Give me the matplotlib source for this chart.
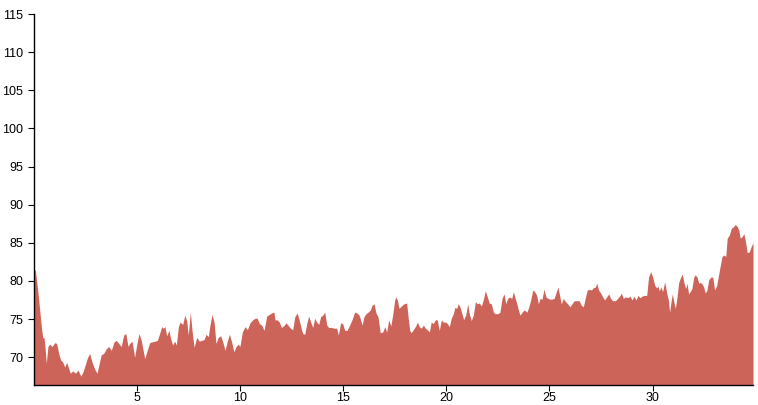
import matplotlib
matplotlib.use("Agg")
import matplotlib.pyplot as plt

# valores (x, y)
xs = [0.00, 0.09, 0.22, 0.30, 0.38, 0.45, 0.51, 0.57, 0.62, 0.70, 0.78, 0.90, 1.03, 1.12, 1.22,
      1.32, 1.41, 1.51, 1.61, 1.71, 1.78, 1.91, 2.03, 2.16, 2.29, 2.40, 2.51, 2.61, 2.72, 2.83,
      2.97, 3.08, 3.17, 3.28, 3.40, 3.53, 3.64, 3.77, 3.90, 4.01, 4.13, 4.25, 4.37, 4.47, 4.58,
      4.66, 4.77, 4.90, 5.00, 5.11, 5.22, 5.39, 5.51, 5.63, 5.73, 5.89, 6.00, 6.09, 6.21, 6.29,
      6.37, 6.45, 6.56, 6.65, 6.74, 6.84, 6.92, 7.02, 7.10, 7.23, 7.33, 7.42, 7.50, 7.60, 7.68,
      7.78, 7.91, 8.03, 8.15, 8.26, 8.36, 8.47, 8.55, 8.65, 8.75, 8.84, 8.95, 9.07, 9.17, 9.28,
      9.39, 9.49, 9.60, 9.71, 9.81, 9.92, 10.00, 10.12, 10.25, 10.36, 10.49, 10.62, 10.73, 10.84,
      10.94, 11.06, 11.17, 11.30, 11.42, 11.54, 11.65, 11.70, 11.80, 11.91, 12.01, 12.12, 12.23,
      12.33, 12.44, 12.56, 12.66, 12.77, 12.85, 12.95, 13.04, 13.14, 13.24, 13.33, 13.43, 13.53,
      13.62, 13.72, 13.82, 13.91, 14.01, 14.11, 14.21, 14.30, 14.43, 14.56, 14.69, 14.77, 14.88,
      14.98, 15.08, 15.19, 15.30, 15.43, 15.56, 15.67, 15.78, 15.92, 16.01, 16.11, 16.21, 16.32,
      16.40, 16.50, 16.59, 16.69, 16.80, 16.92, 17.02, 17.11, 17.21, 17.31, 17.40, 17.50, 17.55,
      17.63, 17.71, 17.82, 17.95, 18.08, 18.14, 18.23, 18.30, 18.40, 18.52, 18.60, 18.69, 18.79,
      18.89, 18.98, 19.08, 19.18, 19.27, 19.37, 19.47, 19.56, 19.66, 19.76, 19.85, 19.97, 20.05,
      20.15, 20.24, 20.34, 20.41, 20.50, 20.58, 20.66, 20.76, 20.84, 20.94, 21.04, 21.11, 21.21,
      21.31, 21.41, 21.50, 21.60, 21.70, 21.79, 21.89, 21.99, 22.08, 22.18, 22.28, 22.37, 22.50,
      22.60, 22.70, 22.80, 22.88, 22.97, 23.07, 23.17, 23.25, 23.34, 23.44, 23.47, 23.57, 23.67,
      23.78, 23.90, 23.99, 24.09, 24.19, 24.28, 24.38, 24.46, 24.54, 24.64, 24.73, 24.83, 24.93,
      25.02, 25.12, 25.22, 25.31, 25.41, 25.49, 25.57, 25.67, 25.77, 25.88, 25.99, 26.09, 26.20,
      26.32, 26.44, 26.54, 26.64, 26.73, 26.83, 26.93, 27.03, 27.12, 27.22, 27.29, 27.38, 27.48,
      27.58, 27.67, 27.77, 27.87, 27.96, 28.06, 28.19, 28.30, 28.42, 28.48, 28.58, 28.67, 28.79,
      28.90, 29.00, 29.09, 29.19, 29.29, 29.38, 29.48, 29.59, 29.71, 29.80, 29.90, 30.00, 30.10,
      30.19, 30.26, 30.32, 30.40, 30.48, 30.58, 30.68, 30.76, 30.82, 30.89, 30.95, 31.02, 31.10,
      31.18, 31.26, 31.36, 31.43, 31.52, 31.60, 31.66, 31.74, 31.82, 31.90, 31.99, 32.06, 32.15,
      32.23, 32.31, 32.39, 32.47, 32.55, 32.63, 32.71, 32.81, 32.91, 33.00, 33.10, 33.20, 33.28,
      33.36, 33.46, 33.54, 33.61, 33.71, 33.81, 33.91, 34.00, 34.08, 34.17, 34.24, 34.33, 34.42,
      34.50, 34.58, 34.68, 34.77, 34.86]

ys = [81.6, 81.4, 78.4, 76.2, 74.0, 72.5, 72.6, 70.9, 69.2, 71.4, 71.7, 71.4, 71.9, 71.8, 70.5,
      69.6, 69.4, 68.7, 69.3, 68.5, 67.9, 68.2, 67.9, 68.3, 67.5, 68.1, 69.0, 69.9, 70.5, 69.4,
      68.4, 67.9, 69.0, 70.3, 70.5, 71.1, 71.4, 70.9, 72.0, 72.2, 71.8, 71.4, 72.9, 73.1, 71.4,
      71.8, 72.1, 70.0, 71.6, 73.1, 72.2, 69.8, 70.9, 71.9, 72.0, 72.1, 72.2, 72.9, 74.0, 73.8,
      74.0, 72.8, 73.5, 72.4, 71.6, 72.1, 71.6, 74.0, 74.6, 74.3, 75.5, 74.8, 72.9, 75.9, 73.5,
      71.3, 72.6, 72.1, 72.2, 72.3, 73.0, 72.7, 74.2, 75.6, 74.6, 71.8, 72.6, 72.8, 72.0, 70.9,
      72.1, 73.0, 72.0, 70.7, 71.4, 71.7, 71.4, 73.3, 74.0, 73.6, 74.5, 74.9, 75.1, 75.1,
      74.4, 74.2, 73.5, 75.4, 75.6, 75.8, 75.9, 74.9, 74.9, 74.6, 73.9, 74.1, 74.5,
      74.2, 73.8, 73.6, 75.3, 75.8, 75.1, 74.0, 73.1, 73.0, 74.4, 75.4, 74.6, 73.9,
      75.1, 74.6, 74.3, 75.3, 75.5, 75.9, 74.2, 73.9, 73.9, 73.8, 73.8, 72.9, 74.5,
      74.4, 73.5, 73.5, 74.1, 74.9, 75.9, 75.8, 75.5, 74.2, 75.3, 75.7, 75.9, 76.2,
      76.8, 77.0, 75.8, 75.3, 73.2, 73.3, 74.0, 73.3, 74.9, 74.1, 75.5, 77.5, 77.9,
      77.5, 76.4, 76.7, 77.0, 77.1, 75.5, 73.5, 73.2, 73.6, 74.1, 74.6, 74.0, 73.8,
      74.2, 73.8, 73.6, 73.3, 74.6, 74.4, 74.9, 74.9, 73.5, 74.9, 74.6, 74.6, 74.4,
      74.0, 75.1, 75.7, 76.5, 76.4, 77.0, 76.6, 75.7, 74.9, 75.5, 77.0, 75.7, 74.8,
      75.5, 77.3, 77.0, 77.1, 76.7, 77.5, 78.7, 77.9, 77.1, 77.0, 75.9, 75.7, 75.7,
      75.9, 77.7, 78.3, 77.0, 77.7, 77.9, 77.7, 78.6, 77.7, 76.8, 76.4, 75.5, 75.9,
      76.2, 75.9, 76.5, 77.5, 78.8, 78.6, 78.1, 77.0, 77.7, 77.6, 78.9, 77.9, 77.7,
      77.6, 77.6, 77.7, 78.4, 79.2, 78.1, 77.0, 77.7, 77.3, 77.0, 76.6, 77.0, 77.4,
      77.4, 77.4, 76.8, 76.6, 77.7, 78.8, 78.9, 78.8, 79.1, 79.2, 79.7, 78.8, 78.4,
      77.9, 77.5, 77.9, 78.3, 77.7, 77.4, 77.4, 77.7, 78.1, 78.4, 77.7, 77.9, 77.8,
      78.0, 77.5, 78.0, 77.5, 78.1, 77.8, 78.0, 78.1, 78.1, 80.5, 81.2, 80.5, 79.4,
      79.1, 79.3, 78.7, 79.2, 78.6, 79.9, 78.4, 77.5, 75.9, 77.3, 78.3, 77.3, 76.4,
      77.9, 79.8, 80.5, 80.9, 79.7, 79.0, 79.7, 78.3, 78.6, 79.0, 80.5, 80.8, 80.5,
      79.7, 79.8, 79.6, 79.2, 78.4, 78.8, 80.1, 80.5, 80.5, 78.8, 79.4, 80.9, 82.1,
      83.2, 83.4, 83.2, 85.6, 86.0, 86.9, 87.1, 87.4, 87.2, 86.7, 85.6, 85.8, 86.2,
      85.1, 83.7, 83.8, 84.5, 85.0]

y_ticks = [70, 75, 80, 85, 90, 95, 100, 105, 110, 115]
x_ticks = [5, 10, 15, 20, 25, 30]

plt.rcParams['font.family'] = ['Liberation Sans', 'DejaVu Sans']

fig = plt.figure(figsize=(7.58, 4.05), dpi=100)
ax = fig.add_axes([33.5 / 758, 20 / 405, 719.5 / 758, 371 / 405])

y_min = 66.35
ax.fill_between(xs, ys, y_min, color='#cd645a', linewidth=0)

ax.set_xlim(0, xs[-1])
ax.set_ylim(y_min, 115)
ax.set_xticks(x_ticks)
ax.set_yticks(y_ticks)

for s in ['top', 'right']:
    ax.spines[s].set_visible(False)
for s in ['left', 'bottom']:
    ax.spines[s].set_color('black')
    ax.spines[s].set_linewidth(1)

ax.tick_params(direction='out', length=6 * 0.72, width=0.8, labelsize=9, colors='black')
ax.tick_params(axis='y', pad=3.2)
ax.tick_params(axis='x', pad=0.8)

fig.savefig('out.png', dpi=100)
